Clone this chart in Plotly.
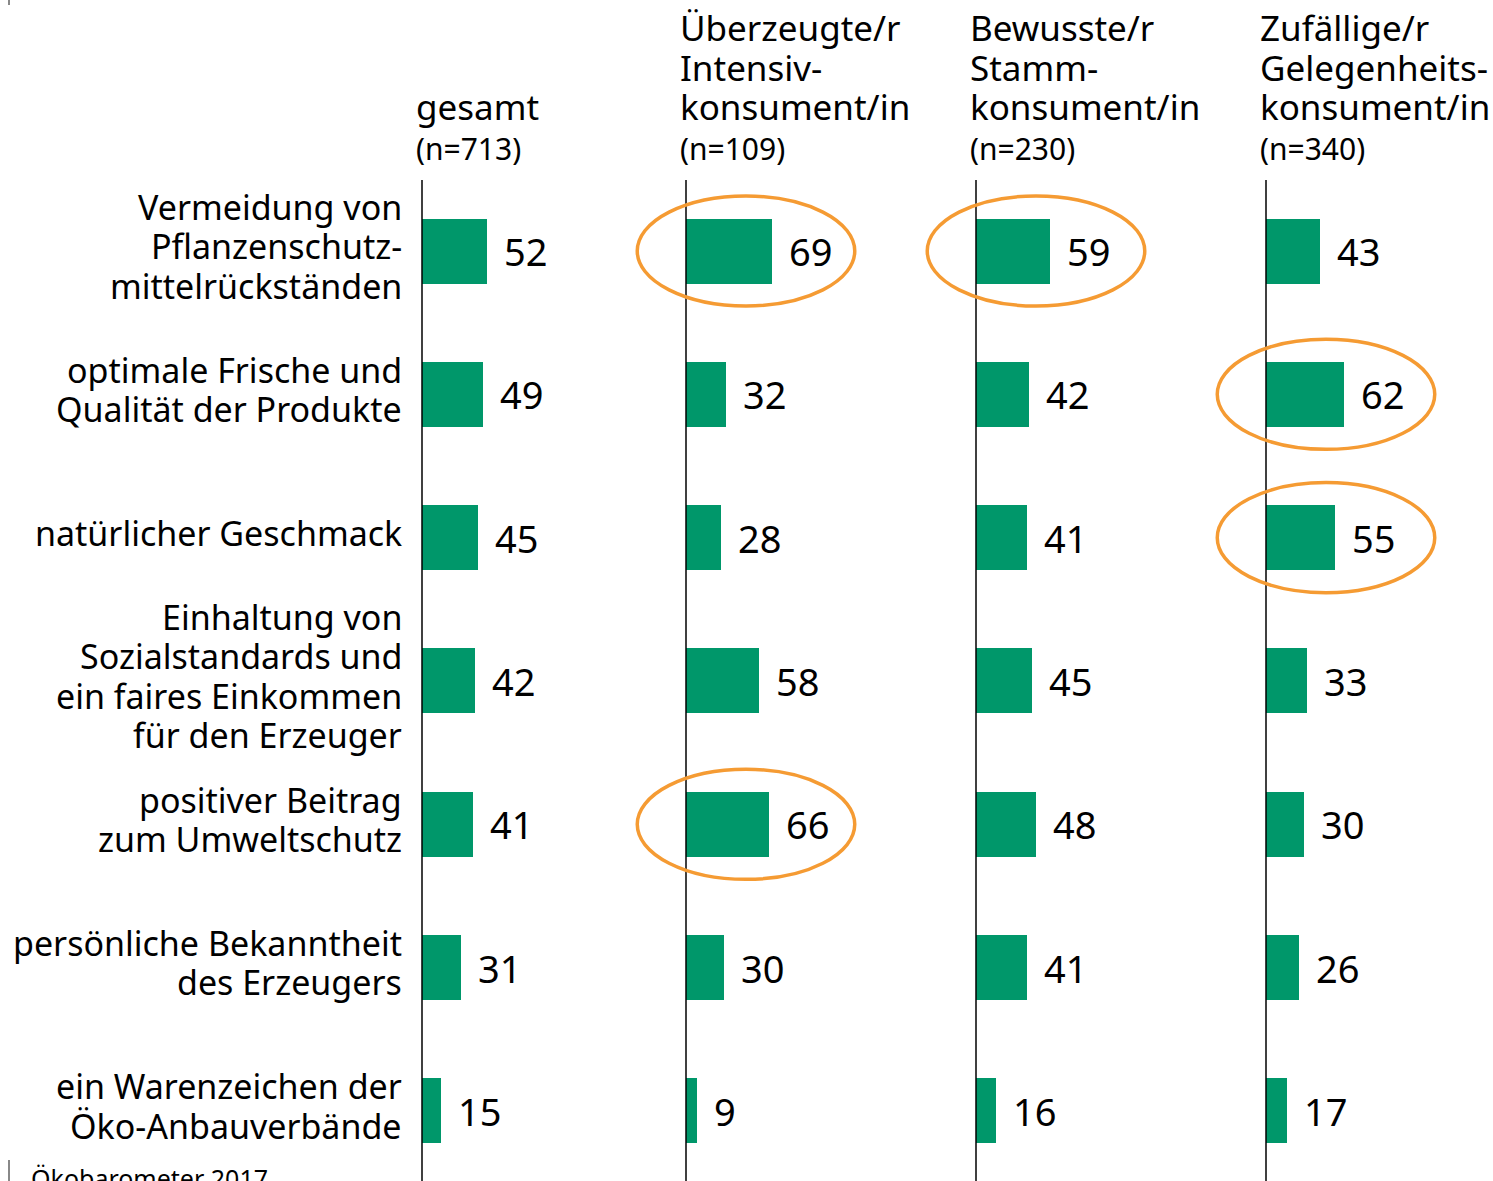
import plotly.graph_objects as go

categories = [
    "Vermeidung von<br>Pflanzenschutz-<br>mittelrückständen",
    "optimale Frische und<br>Qualität der Produkte",
    "natürlicher Geschmack",
    "Einhaltung von<br>Sozialstandards und<br>ein faires Einkommen<br>für den Erzeuger",
    "positiver Beitrag<br>zum Umweltschutz",
    "persönliche Bekanntheit<br>des Erzeugers",
    "ein Warenzeichen der<br>Öko-Anbauverbände",
]
group_titles = [
    ["gesamt"],
    ["Überzeugte/r", "Intensiv-", "konsument/in"],
    ["Bewusste/r", "Stamm-", "konsument/in"],
    ["Zufällige/r", "Gelegenheits-", "konsument/in"],
]
group_n = ["(n=713)", "(n=109)", "(n=230)", "(n=340)"]
gesamt = [52, 49, 45, 42, 41, 31, 15]
intensiv = [69, 32, 28, 58, 66, 30, 9]
stamm = [59, 42, 41, 45, 48, 41, 16]
gelegenheit = [43, 62, 55, 33, 30, 26, 17]
series = [gesamt, intensiv, stamm, gelegenheit]
# highlighted (group index, category index)
highlights = [(1, 0), (2, 0), (3, 1), (3, 2), (1, 4)]
source = "Ökobarometer 2017"

W, H = 1493, 1181
GREEN = "#00976A"
ORANGE = "#F59B33"
FONT = "Noto Sans"

axis_px = [422, 686, 976, 1266]
left_pad = 60
panel_w = 227
px_per_unit = 1.25
top_px = 180
row0_px = 251
row_step = 143.33
bar_h_px = 65
line_step = 39.5

fig = go.Figure()
yvals = list(range(len(categories)))
for k, vals in enumerate(series):
    xa = "x" if k == 0 else f"x{k+1}"
    fig.add_trace(go.Bar(
        x=vals, y=yvals, orientation="h", xaxis=xa, yaxis="y",
        marker=dict(color=GREEN, line=dict(width=0)),
        width=bar_h_px / row_step, showlegend=False, hoverinfo="skip",
    ))

layout = dict(
    width=W, height=H, margin=dict(l=0, r=0, t=0, b=0),
    paper_bgcolor="white", plot_bgcolor="rgba(0,0,0,0)",
    showlegend=False, bargap=0,
)
ytop = (top_px - row0_px) / row_step
ybot = (H - row0_px) / row_step
layout["yaxis"] = dict(domain=[0, (H - top_px) / H], range=[ybot, ytop],
                       visible=False, fixedrange=True)
for k, a in enumerate(axis_px):
    key = "xaxis" if k == 0 else f"xaxis{k+1}"
    layout[key] = dict(domain=[(a - left_pad) / W, min(a + panel_w, W) / W],
                       range=[-left_pad / px_per_unit, (min(a + panel_w, W) - a) / px_per_unit],
                       visible=False, anchor="y", fixedrange=True)
fig.update_layout(**layout)

shapes = []
annotations = []
for k, a in enumerate(axis_px):
    xr = "x" if k == 0 else f"x{k+1}"
    shapes.append(dict(type="line", xref=xr, yref="paper", x0=0, x1=0,
                       y0=0, y1=(H - top_px) / H,
                       line=dict(color="black", width=1.5), layer="above"))
    for i, v in enumerate(series[k]):
        annotations.append(dict(x=v, y=i, xref=xr, yref="y", text=str(v),
                                showarrow=False, xanchor="left", yanchor="middle",
                                xshift=15, yshift=0,
                                font=dict(family=FONT, size=38, color="black")))
    # header
    lines = group_titles[k]
    for j, t in enumerate(reversed(lines)):
        annotations.append(dict(x=(a - 8) / W, y=1 - (107 - 40 * j) / H,
                                xref="paper", yref="paper", text=t,
                                showarrow=False, xanchor="left", yanchor="middle",
                                font=dict(family=FONT, size=35, color="black")))
    annotations.append(dict(x=(a - 8) / W, y=1 - 149 / H, xref="paper", yref="paper",
                            text=group_n[k], showarrow=False, xanchor="left",
                            yanchor="middle",
                            font=dict(family=FONT, size=30, color="black")))

for i, c in enumerate(categories):
    parts = c.split("<br>")
    n = len(parts)
    center = row0_px + row_step * i - 5
    for j, p in enumerate(parts):
        ypx = center + (j - (n - 1) / 2) * line_step
        annotations.append(dict(x=404 / W, y=1 - ypx / H, xref="paper", yref="paper",
                                text=p, showarrow=False, xanchor="right",
                                yanchor="middle", align="right",
                                font=dict(family=FONT, size=34, color="black")))

for (k, i) in highlights:
    xr = "x" if k == 0 else f"x{k+1}"
    c = 48
    shapes.append(dict(type="circle", xref=xr, yref="y",
                       x0=c - 87, x1=c + 87, y0=i - 0.384, y1=i + 0.384,
                       line=dict(color=ORANGE, width=3.5), layer="above"))

# page marks and source
shapes.append(dict(type="line", xref="paper", yref="paper", x0=9 / W, x1=9 / W,
                   y0=1, y1=1 - 5 / H, line=dict(color="#888888", width=2)))
shapes.append(dict(type="line", xref="paper", yref="paper", x0=9 / W, x1=9 / W,
                   y0=1 - 1160 / H, y1=0, line=dict(color="#888888", width=2)))
annotations.append(dict(x=29 / W, y=1 - 1178 / H, xref="paper", yref="paper",
                        text=source, showarrow=False, xanchor="left", yanchor="middle",
                        font=dict(family=FONT, size=25, color="black")))

fig.update_layout(shapes=shapes, annotations=annotations)
fig.write_html("out.html", config={"displayModeBar": False},
               post_script="document.body.style.margin='0px';document.body.style.padding='0px';")
